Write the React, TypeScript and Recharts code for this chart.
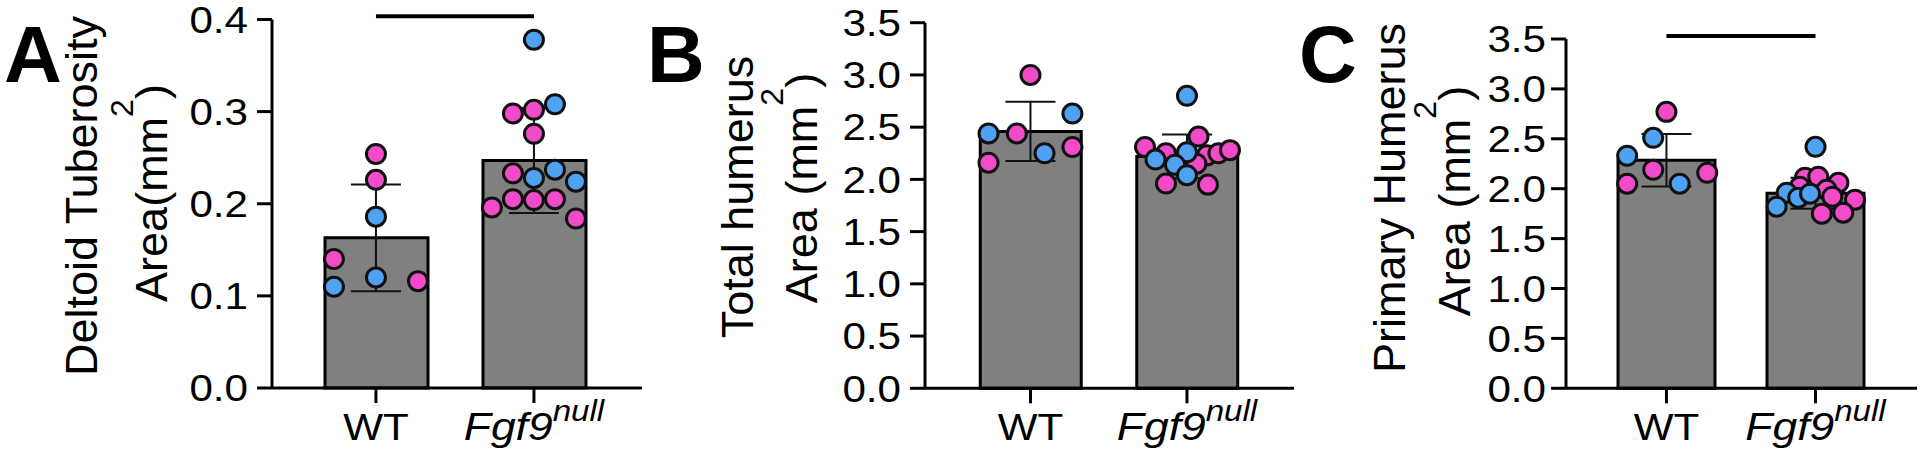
import React from 'react';
import { ComposedChart, Bar, Scatter, XAxis, YAxis, ErrorBar, ReferenceLine } from 'recharts';

// ---------- data ----------
const categories = [
  { label: 'WT', sup: '' },
  { label: 'Fgf9', sup: 'null' },
];

type Sex = 'F' | 'M';
type Pt = { v: number; slot: number; sex: Sex };

// Panel A – Deltoid tuberosity area
const aTicks = [0, 0.1, 0.2, 0.3, 0.4];
const aMeans = [0.163, 0.247];
const aSD = [0.058, 0.057];
const aWT: Pt[] = [
  { v: 0.254, slot: 0, sex: 'F' },
  { v: 0.226, slot: 0, sex: 'F' },
  { v: 0.186, slot: 0, sex: 'M' },
  { v: 0.14, slot: -2, sex: 'F' },
  { v: 0.12, slot: 0, sex: 'M' },
  { v: 0.11, slot: -2, sex: 'M' },
  { v: 0.116, slot: 2, sex: 'F' },
];
const aKO: Pt[] = [
  { v: 0.378, slot: 0, sex: 'M' },
  { v: 0.308, slot: 1, sex: 'M' },
  { v: 0.298, slot: -1, sex: 'F' },
  { v: 0.302, slot: 0, sex: 'F' },
  { v: 0.276, slot: 0, sex: 'F' },
  { v: 0.237, slot: 1, sex: 'M' },
  { v: 0.233, slot: -1, sex: 'F' },
  { v: 0.228, slot: 0, sex: 'M' },
  { v: 0.224, slot: 2, sex: 'M' },
  { v: 0.196, slot: -2, sex: 'F' },
  { v: 0.205, slot: -1, sex: 'F' },
  { v: 0.204, slot: 0, sex: 'F' },
  { v: 0.205, slot: 1, sex: 'F' },
  { v: 0.184, slot: 2, sex: 'F' },
];
const aSig = 0.4035;

// Panel B – Total humerus area
const bTicks = [0, 0.5, 1, 1.5, 2, 2.5, 3, 3.5];
const bMeans = [2.459, 2.22];
const bSD = [0.284, 0.21];
const bWT: Pt[] = [
  { v: 3.0, slot: 0, sex: 'F' },
  { v: 2.63, slot: 2, sex: 'M' },
  { v: 2.44, slot: -2, sex: 'M' },
  { v: 2.44, slot: -0.65, sex: 'F' },
  { v: 2.31, slot: 2, sex: 'F' },
  { v: 2.25, slot: 0.67, sex: 'M' },
  { v: 2.16, slot: -2, sex: 'F' },
];
const bKO: Pt[] = [
  { v: 2.8, slot: 0, sex: 'M' },
  { v: 2.31, slot: -2, sex: 'F' },
  { v: 2.41, slot: 0.55, sex: 'F' },
  { v: 2.25, slot: -1, sex: 'F' },
  { v: 2.19, slot: -1.5, sex: 'M' },
  { v: 2.26, slot: 0, sex: 'M' },
  { v: 2.14, slot: -0.57, sex: 'M' },
  { v: 2.23, slot: 0.95, sex: 'F' },
  { v: 2.25, slot: 1.5, sex: 'F' },
  { v: 2.28, slot: 2.05, sex: 'F' },
  { v: 2.04, slot: 0, sex: 'M' },
  { v: 1.96, slot: -1, sex: 'F' },
  { v: 1.95, slot: 1, sex: 'F' },
  { v: 2.15, slot: 0.45, sex: 'F' },
];

// Panel C – Primary humerus area
const cTicks = [0, 0.5, 1, 1.5, 2, 2.5, 3, 3.5];
const cMeans = [2.285, 1.955];
const cSD = [0.264, 0.155];
const cWT: Pt[] = [
  { v: 2.77, slot: 0, sex: 'F' },
  { v: 2.51, slot: -0.63, sex: 'M' },
  { v: 2.33, slot: -1.87, sex: 'M' },
  { v: 2.19, slot: -0.63, sex: 'F' },
  { v: 2.16, slot: 1.94, sex: 'F' },
  { v: 2.05, slot: -1.87, sex: 'F' },
  { v: 2.05, slot: 0.63, sex: 'M' },
];
const cKO: Pt[] = [
  { v: 2.42, slot: 0, sex: 'M' },
  { v: 2.11, slot: -0.5, sex: 'F' },
  { v: 2.12, slot: 0.13, sex: 'F' },
  { v: 2.06, slot: 1.09, sex: 'F' },
  { v: 1.99, slot: 0.53, sex: 'F' },
  { v: 1.96, slot: -1.37, sex: 'M' },
  { v: 1.91, slot: -0.82, sex: 'M' },
  { v: 1.95, slot: -0.26, sex: 'M' },
  { v: 1.82, slot: -1.85, sex: 'M' },
  { v: 1.89, slot: 1.88, sex: 'F' },
  { v: 1.75, slot: 0.3, sex: 'F' },
  { v: 1.76, slot: 1.32, sex: 'F' },
  { v: 2.02, slot: -0.75, sex: 'F' },
  { v: 1.92, slot: 0.8, sex: 'F' },
];
const cSig = 3.53;

// ---------- style ----------
const FONT = 'Arial, "Liberation Sans", Helvetica, sans-serif';
const PINK = '#F24BC9';
const BLUE = '#4FA2F2';
const GRAY = '#808080';
const SX = 1.14;

const sexColor: Record<Sex, string> = { F: PINK, M: BLUE };

function buildDots(groups: Pt[][], slotUnit: number, sex: Sex) {
  const out: { x: number; v: number }[] = [];
  groups.forEach((g, gi) =>
    g.forEach((p) => {
      if (p.sex === sex) out.push({ x: gi + p.slot * slotUnit, v: p.v });
    })
  );
  return out;
}

function buildBars(means: number[], sds: number[]) {
  return means.map((m, i) => ({ x: i, cat: String(i), mean: m, sd: sds[i] }));
}

const makeDot = (fill: string) => (props: any) => {
  const { cx, cy } = props;
  if (cx == null || cy == null) return <g />;
  return <circle cx={cx} cy={cy} r={9.5} fill={fill} stroke="#111" strokeWidth={3} />;
};

const NoShape = () => <g />;

const YTick = (props: any) => {
  const { x, y, payload } = props;
  return (
    <g transform={`translate(${x},${y}) scale(${SX},1)`}>
      <text x={0} y={0} dy="0.36em" textAnchor="end" fontSize={37} fontFamily={FONT} fill="#000">
        {Number(payload.value).toFixed(1)}
      </text>
    </g>
  );
};

const XTick = (props: any) => {
  const { x, y, payload } = props;
  const cat = categories[Math.round(payload.value)];
  if (!cat) return <g />;
  return (
    <g transform={`translate(${x},${y}) scale(${SX},1)`}>
      <text x={0} y={37} textAnchor="middle" fontSize={37} fontFamily={FONT} fill="#000">
        {cat.sup ? (
          <>
            <tspan fontStyle="italic" fontSize={39}>{cat.label}</tspan>
            <tspan fontStyle="italic" fontSize={29} dy={-19}>
              {cat.sup}
            </tspan>
          </>
        ) : (
          cat.label
        )}
      </text>
    </g>
  );
};

type PanelProps = {
  left: number;
  width: number;
  yWidth: number;
  margin: { top: number; right: number; bottom: number; left: number };
  xDomain: [number, number];
  catPad: { left: number; right: number };
  ticks: number[];
  domain: [number, number];
  means: number[];
  sds: number[];
  groups: Pt[][];
  slotUnit: number;
  barSize: number;
  tickMargin: number;
  sig?: number;
};

function Panel(p: PanelProps) {
  const bars = buildBars(p.means, p.sds);
  const pinkDots = buildDots(p.groups, p.slotUnit, 'F');
  const blueDots = buildDots(p.groups, p.slotUnit, 'M');
  const axisStyle = { stroke: '#000', strokeWidth: 3 };
  return (
    <div style={{ position: 'absolute', left: p.left, top: 0 }}>
      <ComposedChart width={p.width} height={461} data={bars} margin={p.margin}>
        <XAxis
          xAxisId="num"
          dataKey="x"
          type="number"
          domain={p.xDomain}
          ticks={[0, 1]}
          height={60}
          tickSize={15}
          tickMargin={0}
          axisLine={axisStyle}
          tickLine={axisStyle}
          tick={XTick}
          interval={0}
        />
        <XAxis xAxisId="cat" dataKey="cat" type="category" hide padding={p.catPad} height={0} />
        <YAxis
          type="number"
          domain={p.domain}
          ticks={p.ticks}
          width={p.yWidth}
          tickSize={15}
          tickMargin={p.tickMargin}
          axisLine={axisStyle}
          tickLine={axisStyle}
          tick={YTick}
          interval={0}
        />
        <Bar
          xAxisId="cat"
          dataKey="mean"
          fill={GRAY}
          stroke="#000"
          strokeWidth={3}
          barSize={p.barSize}
          isAnimationActive={false}
        />
        <Scatter xAxisId="num" data={pinkDots} dataKey="v" shape={makeDot(sexColor.F)} isAnimationActive={false} />
        <Scatter xAxisId="num" data={blueDots} dataKey="v" shape={makeDot(sexColor.M)} isAnimationActive={false} />
        <Scatter xAxisId="num" data={bars} dataKey="mean" shape={NoShape} isAnimationActive={false}>
          <ErrorBar dataKey="sd" direction="y" width={25} stroke="#111" strokeWidth={2} isAnimationActive={false} />
        </Scatter>
        {p.sig !== undefined && (
          <ReferenceLine
            xAxisId="num"
            segment={[
              { x: 0, y: p.sig },
              { x: 1, y: p.sig },
            ]}
            stroke="#000"
            strokeWidth={4}
            ifOverflow="visible"
          />
        )}
      </ComposedChart>
    </div>
  );
}

function Titles() {
  const lines = [
    { x: 97, y: 196, text: 'Deltoid Tuberosity' },
    { x: 167, y: 193, text: 'Area(mm', sup: '2', after: ')' },
    { x: 753, y: 197, text: 'Total humerus' },
    { x: 817, y: 188, text: 'Area (mm', sup: '2', after: ')' },
    { x: 1405, y: 198, text: 'Primary Humerus' },
    { x: 1470, y: 201, text: 'Area (mm', sup: '2', after: ')' },
  ];
  const letters = [
    { x: 4, t: 'A' },
    { x: 647, t: 'B' },
    { x: 1299, t: 'C' },
  ];
  return (
    <svg width={1920} height={461} style={{ position: 'absolute', left: 0, top: 0, pointerEvents: 'none' }}>
      <g fontFamily={FONT} fill="#000">
        {letters.map((l) => (
          <text key={l.t} x={l.x} y={82} fontSize={80} fontWeight="bold">
            {l.t}
          </text>
        ))}
        {lines.map((ln, i) => (
          <text key={i} transform={`translate(${ln.x},${ln.y}) rotate(-90)`} textAnchor="middle" fontSize={45}>
            <tspan>{ln.text}</tspan>
            {ln.sup && (
              <tspan fontSize={32} dy={-34}>
                {ln.sup}
              </tspan>
            )}
            {ln.after && <tspan dy={34}>{ln.after}</tspan>}
          </text>
        ))}
      </g>
    </svg>
  );
}

export default function App() {
  return (
    <div style={{ position: 'absolute', left: 0, top: 0, width: 1920, height: 461, background: '#fff', overflow: 'hidden' }}>
      <Panel
        left={0}
        width={650}
        yWidth={272}
        margin={{ top: 19.5, right: 8, bottom: 13, left: 0 }}
        xDomain={[-0.658, 1.684]}
        catPad={{ left: 25, right: 29 }}
        ticks={aTicks}
        domain={[0, 0.4]}
        means={aMeans}
        sds={aSD}
        groups={[aWT, aKO]}
        slotUnit={0.133}
        barSize={103}
        tickMargin={9}
        sig={aSig}
      />
      <Panel
        left={640}
        width={660}
        yWidth={285}
        margin={{ top: 22.7, right: 6, bottom: 12.7, left: 0 }}
        xDomain={[-0.674, 1.684]}
        catPad={{ left: 27.25, right: 28.75 }}
        ticks={bTicks}
        domain={[0, 3.5]}
        means={bMeans}
        sds={bSD}
        groups={[bWT, bKO]}
        slotUnit={0.134}
        barSize={101}
        tickMargin={9}
      />
      <Panel
        left={1290}
        width={630}
        yWidth={276}
        margin={{ top: 39, right: 3, bottom: 12.7, left: 0 }}
        xDomain={[-0.674, 1.681]}
        catPad={{ left: 26, right: 27 }}
        ticks={cTicks}
        domain={[0, 3.5]}
        means={cMeans}
        sds={cSD}
        groups={[cWT, cKO]}
        slotUnit={0.141}
        barSize={97}
        tickMargin={5}
        sig={cSig}
      />
      <Titles />
    </div>
  );
}
